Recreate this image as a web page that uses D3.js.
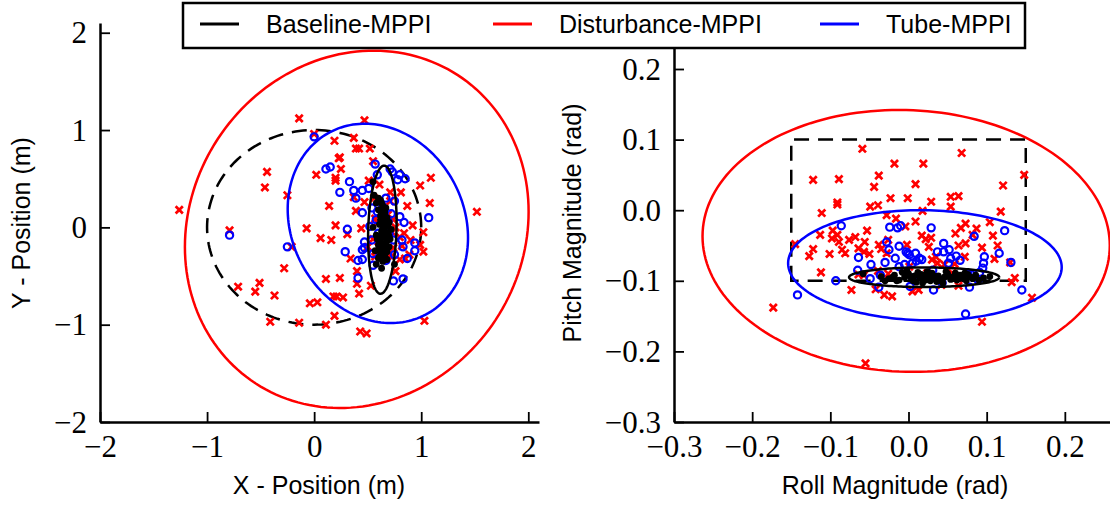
<!DOCTYPE html>
<html lang="en">
<head>
<meta charset="UTF-8">
<script src="https://cdn.jsdelivr.net/npm/d3@7"></script>
<style>
  body { margin: 0; background: #fff; }
  svg { display: block; }
  .tick text { font-family: "Liberation Serif", serif; font-size: 31px; fill: #000; }
  .axis-label, .legend text { font-family: "Liberation Sans", Arial, sans-serif; font-size: 25px; fill: #000; }
</style>
</head>
<body>
<div id="chart"></div>
<script>
// series order: Baseline, Disturbance, Tube
var seriesNames = ["Baseline-MPPI", "Disturbance-MPPI", "Tube-MPPI"];
var seriesColors = ["#000000", "#ff0000", "#0000ff"];

// ---- position plot (m) ----
var posBase = [[0.55,0.47],[0.56,0.33],[0.60,0.30],[0.62,0.28],[0.58,0.25],[0.64,0.22],[0.60,0.18],[0.66,0.15],[0.62,0.12],[0.68,0.10],
  [0.64,0.07],[0.70,0.05],[0.61,0.03],[0.66,0.00],[0.72,-0.02],[0.63,-0.04],[0.69,-0.06],[0.58,-0.08],[0.65,-0.10],[0.71,-0.12],
  [0.62,-0.14],[0.67,-0.16],[0.60,-0.18],[0.70,-0.20],[0.64,-0.22],[0.57,-0.24],[0.68,-0.25],[0.62,-0.28],[0.66,-0.30],[0.60,-0.32],
  [0.64,-0.35],[0.58,-0.38],[0.63,-0.42],[0.67,-0.05],[0.65,0.04],[0.68,-0.14],[0.61,-0.22],[0.66,-0.26],[0.63,0.16],[0.67,0.20],
  [0.70,-0.09],[0.59,-0.12],[0.62,0.08],[0.69,0.02],[0.65,-0.19],[0.63,-0.08],[0.66,0.12],[0.61,-0.30],[0.75,-0.38],[0.55,0.00],
  [0.64,-0.01],[0.67,0.09],[0.62,-0.19],[0.66,-0.22],[0.63,0.25],[0.68,-0.33]];
var posDist = [[-0.14,1.12],[0.47,1.10],[0.00,0.96],[0.19,0.89],[0.37,0.92],[0.39,0.81],[0.42,0.81],[0.52,0.81],[0.23,0.71],[0.24,0.72],
  [0.55,0.68],[-0.44,0.57],[0.02,0.54],[0.25,0.60],[0.20,0.51],[0.20,0.48],[-0.46,0.41],[0.51,0.48],[0.61,0.44],[0.99,0.43],
  [1.09,0.51],[0.71,0.36],[0.81,0.36],[-0.25,0.33],[0.37,0.31],[0.47,0.26],[0.71,0.27],[0.87,0.22],[1.08,0.25],[0.14,0.22],
  [0.39,0.17],[-1.26,0.18],[1.52,0.16],[0.57,0.09],[0.74,0.08],[0.92,0.02],[-0.79,-0.03],[-0.07,-0.01],[0.20,0.02],[0.44,-0.01],
  [0.31,-0.07],[0.84,-0.06],[1.02,-0.05],[0.06,-0.11],[0.16,-0.13],[0.90,-0.13],[0.99,-0.18],[-0.21,-0.20],[0.82,-0.19],[1.02,-0.25],
  [0.89,-0.28],[0.34,-0.32],[0.80,-0.33],[0.85,-0.32],[0.69,-0.29],[-0.28,-0.42],[0.40,-0.45],[0.76,-0.45],[0.11,-0.53],[0.24,-0.52],
  [-0.51,-0.57],[-0.71,-0.61],[-0.55,-0.66],[0.40,-0.58],[0.53,-0.60],[-0.37,-0.70],[0.42,-0.68],[0.18,-0.71],[0.21,-0.71],[0.27,-0.72],
  [-0.04,-0.78],[0.03,-0.77],[0.19,-0.91],[-0.41,-0.97],[-0.14,-0.98],[0.11,-1.00],[1.03,-0.96],[0.43,-1.07],[0.49,-1.09],
  [0.56,0.30],[0.63,0.22],[0.69,0.13],[0.55,-0.12],[0.60,-0.20],[0.68,-0.28],[0.72,-0.30],[0.74,-0.21],[0.73,-0.05],[0.76,0.00],
  [0.57,-0.30],[0.66,-0.33],[0.59,0.05],[0.50,-0.20],[0.80,-0.10]];
var posTube = [[0.00,0.93],[0.11,0.60],[0.15,0.62],[0.33,0.47],[0.24,0.36],[0.37,0.38],[0.45,0.38],[0.39,0.30],[0.57,0.65],[0.59,0.54],
  [0.71,0.60],[0.73,0.57],[0.80,0.54],[0.85,0.50],[0.78,0.49],[0.51,0.40],[0.67,0.30],[0.75,0.27],[0.45,0.15],[0.54,0.20],
  [0.59,0.16],[0.52,0.01],[0.80,0.11],[0.84,0.05],[1.07,0.10],[0.31,-0.02],[-0.79,-0.08],[-0.25,-0.20],[0.29,-0.25],[0.47,-0.15],
  [0.47,-0.21],[0.45,-0.23],[0.54,-0.13],[0.55,-0.27],[0.41,-0.34],[0.45,-0.33],[0.55,-0.39],[0.67,-0.34],[0.75,-0.28],[0.82,-0.13],
  [0.83,-0.20],[0.87,-0.32],[0.94,-0.16],[0.94,-0.24],[0.41,-0.52],[0.74,-0.55],[0.83,-0.53],[0.70,-0.06],[0.69,0.06],[0.64,0.21],
  [0.74,-0.13],[0.58,0.08],[0.60,-0.06],[0.72,0.14]];
// ellipse centres and covariances [sxx, syy, sxy]
var posEllipseCenter = [[0.637,-0.024],[0.398,-0.02],[0.595,0.041]];
var posEllipseCov = [[0.0177,0.433,0.011],[2.576,3.371,0.29],[0.709,1.049,-0.124]];
var posLimitRadius = 1;
var posTicks = [-2, -1, 0, 1, 2];

// ---- attitude plot (rad) ----
var attBase = [[-0.058,-0.090],[-0.035,-0.094],[-0.025,-0.097],[-0.018,-0.092],[-0.012,-0.099],[-0.005,-0.095],[0.000,-0.090],[0.004,-0.098],
  [0.008,-0.093],[0.012,-0.088],[0.015,-0.096],[0.019,-0.092],[0.022,-0.099],[0.026,-0.094],[0.030,-0.089],[0.034,-0.097],[0.038,-0.093],
  [0.042,-0.100],[0.046,-0.095],[0.050,-0.090],[0.054,-0.098],[0.058,-0.094],[0.062,-0.099],[0.066,-0.092],[0.070,-0.096],[0.074,-0.100],
  [0.078,-0.094],[0.082,-0.097],[0.086,-0.092],[0.090,-0.099],[0.096,-0.096],[0.104,-0.094],[-0.002,-0.086],[0.010,-0.102],[0.024,-0.087],
  [0.036,-0.101],[0.048,-0.087],[0.060,-0.089],[0.072,-0.089],[-0.015,-0.100],[-0.008,-0.088],[0.018,-0.103],[0.044,-0.103],[-0.030,-0.100],[0.028,-0.100],
  [0.002,-0.094],[0.016,-0.091],[0.032,-0.093],[0.040,-0.097],[0.052,-0.094],[0.064,-0.096],[0.076,-0.091],[0.084,-0.095],[-0.020,-0.095],[0.006,-0.100]];
var attDist = [[-0.059,0.087],[0.068,0.081],[-0.018,0.066],[0.019,0.066],[-0.038,0.049],[0.148,0.050],[-0.122,0.043],[-0.089,0.044],
  [-0.044,0.033],[0.009,0.037],[0.121,0.035],[-0.023,0.017],[-0.001,0.017],[0.054,0.019],[0.064,0.020],[-0.091,0.011],[-0.091,0.008],
  [-0.049,0.005],[-0.039,0.007],[0.029,0.012],[0.054,0.005],[-0.111,-0.004],[0.018,-0.001],[0.118,-0.002],[-0.028,-0.007],[-0.016,-0.012],
  [0.009,-0.016],[0.104,-0.017],[0.073,-0.019],[0.067,-0.025],[-0.004,-0.023],[0.087,-0.026],[-0.097,-0.029],[-0.053,-0.029],[-0.113,-0.035],
  [-0.098,-0.040],[-0.091,-0.035],[-0.076,-0.042],[-0.068,-0.038],[-0.026,-0.042],[0.017,-0.036],[0.022,-0.041],[0.029,-0.039],[0.060,-0.033],
  [0.082,-0.035],[0.108,-0.036],[-0.145,-0.048],[-0.089,-0.045],[-0.056,-0.045],[-0.038,-0.049],[-0.002,-0.049],[0.064,-0.050],[0.073,-0.047],
  [0.114,-0.050],[-0.122,-0.055],[-0.085,-0.056],[-0.064,-0.054],[-0.035,-0.055],[0.026,-0.052],[0.094,-0.053],[-0.127,-0.065],[-0.101,-0.062],
  [-0.081,-0.061],[-0.057,-0.059],[-0.050,-0.062],[-0.028,-0.061],[0.035,-0.066],[0.072,-0.066],[0.110,-0.069],[0.037,-0.075],[0.046,-0.077],
  [0.059,-0.076],[0.130,-0.074],[-0.112,-0.088],[-0.064,-0.091],[-0.057,-0.092],[-0.039,-0.086],[-0.026,-0.090],[0.136,-0.096],[0.132,-0.102],
  [-0.073,-0.113],[-0.042,-0.112],[-0.031,-0.120],[-0.021,-0.122],[0.005,-0.115],[0.013,-0.113],[0.042,-0.106],[0.064,-0.107],[0.158,-0.124],
  [-0.173,-0.138],[0.094,-0.158],[-0.055,-0.217],[0.030,-0.070],[0.001,-0.080],[0.024,-0.089],[0.056,-0.089]];
var attTube = [[-0.086,-0.022],[-0.024,-0.024],[-0.014,-0.025],[-0.010,-0.022],[0.029,-0.025],[0.123,-0.029],[-0.028,-0.045],[0.045,-0.047],
  [-0.012,-0.051],[-0.025,-0.056],[0.052,-0.056],[0.084,-0.037],[-0.001,-0.061],[0.009,-0.061],[0.001,-0.063],[-0.003,-0.059],[0.037,-0.059],
  [0.045,-0.059],[0.116,-0.061],[-0.064,-0.067],[-0.017,-0.068],[0.014,-0.068],[0.010,-0.072],[0.017,-0.070],[0.054,-0.068],[0.061,-0.065],
  [0.066,-0.071],[0.097,-0.066],[-0.030,-0.074],[0.005,-0.075],[-0.005,-0.077],[0.051,-0.075],[0.096,-0.075],[0.131,-0.074],[-0.048,-0.077],
  [-0.012,-0.080],[0.095,-0.082],[-0.065,-0.085],[-0.036,-0.092],[0.031,-0.085],[0.076,-0.091],[0.080,-0.091],[0.091,-0.088],[-0.093,-0.100],
  [-0.049,-0.097],[0.006,-0.096],[0.043,-0.103],[0.089,-0.099],[-0.038,-0.109],[0.002,-0.108],[0.032,-0.113],[0.078,-0.109],[-0.142,-0.120],
  [0.145,-0.113],[0.073,-0.147]];
var attEllipseCenter = [[0.020,-0.095],[-0.003,-0.0435],[0.021,-0.078]];
var attEllipseCov = [[0.009216,0.000193,0],[0.06786,0.03441,-0.0017],[0.030625,0.006084,-0.0005]];
var attLimitBox = [-0.15, 0.15, -0.1, 0.1];
var attTicks = [-0.3, -0.2, -0.1, 0.0, 0.1, 0.2];

var svg = d3.select("#chart").append("svg")
  .attr("width", 1110)
  .attr("height", 505);

function minusFmt(f) {
  return function (d) { return f(d).replace("-", "\u2212"); };
}

function ellipsePath(x, y, c, cov) {
  var l11 = Math.sqrt(cov[0]);
  var l21 = cov[2] / l11;
  var l22 = Math.sqrt(cov[1] - l21 * l21);
  var pts = d3.range(0, 361, 2).map(function (deg) {
    var t = deg * Math.PI / 180;
    return [c[0] + l11 * Math.cos(t), c[1] + l21 * Math.cos(t) + l22 * Math.sin(t)];
  });
  return d3.line().x(function (d) { return x(d[0]); }).y(function (d) { return y(d[1]); })(pts);
}

function drawPanel(p) {
  var x = d3.scaleLinear().domain(p.xDomain).range(p.xRange);
  var y = d3.scaleLinear().domain(p.yDomain).range(p.yRange);
  var g = svg.append("g");

  // dashed limit shape
  g.append("path")
    .attr("d", p.limit(x, y))
    .attr("fill", "none")
    .attr("stroke", "#000")
    .attr("stroke-width", 2.5)
    .attr("stroke-dasharray", "15,9");

  // disturbance: red x
  var s = 3.6;
  g.selectAll(".xm").data(p.dist).enter().append("path")
    .attr("d", "M" + (-s) + "," + (-s) + "L" + s + "," + s + "M" + (-s) + "," + s + "L" + s + "," + (-s))
    .attr("transform", function (d) { return "translate(" + x(d[0]) + "," + y(d[1]) + ")"; })
    .attr("stroke", seriesColors[1])
    .attr("stroke-width", 2.7);

  // tube: blue open circles
  g.selectAll(".om").data(p.tube).enter().append("circle")
    .attr("cx", function (d) { return x(d[0]); })
    .attr("cy", function (d) { return y(d[1]); })
    .attr("r", 3.6)
    .attr("fill", "none")
    .attr("stroke", seriesColors[2])
    .attr("stroke-width", 2.2);

  // baseline: black dots
  g.selectAll(".dm").data(p.base).enter().append("circle")
    .attr("cx", function (d) { return x(d[0]); })
    .attr("cy", function (d) { return y(d[1]); })
    .attr("r", 3.4)
    .attr("fill", seriesColors[0]);

  // covariance ellipses
  [1, 2, 0].forEach(function (i) {
    g.append("path")
      .attr("d", ellipsePath(x, y, p.centers[i], p.covs[i]))
      .attr("fill", "none")
      .attr("stroke", seriesColors[i])
      .attr("stroke-width", 2.5);
  });

  // axes (ticks inward, no top/right spines)
  var xAxis = g.append("g")
    .attr("transform", "translate(0," + p.yRange[0] + ")")
    .call(d3.axisBottom(x).tickValues(p.ticks).tickFormat(p.fmt).tickSizeInner(-10).tickSizeOuter(0).tickPadding(13));
  var yAxis = g.append("g")
    .attr("transform", "translate(" + p.xRange[0] + ",0)")
    .call(d3.axisLeft(y).tickValues(p.yTicks).tickFormat(p.fmt).tickSizeInner(-10).tickSizeOuter(0).tickPadding(13));
  [xAxis, yAxis].forEach(function (a) {
    a.attr("font-family", null).attr("font-size", null);
    a.select(".domain").attr("stroke-width", 2.5);
    a.selectAll(".tick line").attr("stroke-width", 1.8);
  });
  xAxis.selectAll(".tick text").attr("dy", null).attr("y", 35);
  yAxis.selectAll(".tick text").attr("dy", null).attr("y", 10);

  g.append("text")
    .attr("class", "axis-label")
    .attr("x", p.xLabelPos[0])
    .attr("y", p.xLabelPos[1])
    .attr("text-anchor", "middle")
    .text(p.xLabel);
  g.append("text")
    .attr("class", "axis-label")
    .attr("transform", "translate(" + p.yLabelPos[0] + "," + p.yLabelPos[1] + ") rotate(-90)")
    .attr("text-anchor", "middle")
    .text(p.yLabel);
}

drawPanel({
  xDomain: [-2, 2.1], xRange: [100, 539],
  yDomain: [-2, 2.1], yRange: [422, 23],
  ticks: posTicks, yTicks: posTicks,
  fmt: minusFmt(d3.format("d")),
  base: posBase, dist: posDist, tube: posTube,
  centers: posEllipseCenter, covs: posEllipseCov,
  limit: function (x, y) {
    var pts = d3.range(0, 361, 2).map(function (deg) {
      var t = deg * Math.PI / 180;
      return [posLimitRadius * Math.cos(t), posLimitRadius * Math.sin(t)];
    });
    return d3.line().x(function (d) { return x(d[0]); }).y(function (d) { return y(d[1]); })(pts);
  },
  xLabel: "X - Position (m)", xLabelPos: [319, 494],
  yLabel: "Y - Position (m)", yLabelPos: [30, 223]
});

drawPanel({
  xDomain: [-0.3, 0.3], xRange: [674, 1143],
  yDomain: [-0.3, 0.25], yRange: [422, 33.7],
  ticks: attTicks, yTicks: attTicks,
  fmt: minusFmt(d3.format(".1f")),
  base: attBase, dist: attDist, tube: attTube,
  centers: attEllipseCenter, covs: attEllipseCov,
  limit: function (x, y) {
    var b = attLimitBox;
    return "M" + x(b[0]) + "," + y(b[2]) + "L" + x(b[0]) + "," + y(b[3]) +
      "L" + x(b[1]) + "," + y(b[3]) + "L" + x(b[1]) + "," + y(b[2]) + "Z";
  },
  xLabel: "Roll Magnitude (rad)", xLabelPos: [895, 494],
  yLabel: "Pitch Magnitude (rad)", yLabelPos: [581, 223]
});

// legend on top
var legend = svg.append("g").attr("class", "legend");
legend.append("rect")
  .attr("x", 183).attr("y", 3)
  .attr("width", 842).attr("height", 45)
  .attr("fill", "#fff")
  .attr("stroke", "#000")
  .attr("stroke-width", 2.5);
var legendX = [200, 493, 820];
seriesNames.forEach(function (name, i) {
  legend.append("line")
    .attr("x1", legendX[i]).attr("x2", legendX[i] + 39)
    .attr("y1", 24).attr("y2", 24)
    .attr("stroke", seriesColors[i])
    .attr("stroke-width", 3);
  legend.append("text")
    .attr("x", legendX[i] + 66)
    .attr("y", 33)
    .text(name);
});
</script>
</body>
</html>
